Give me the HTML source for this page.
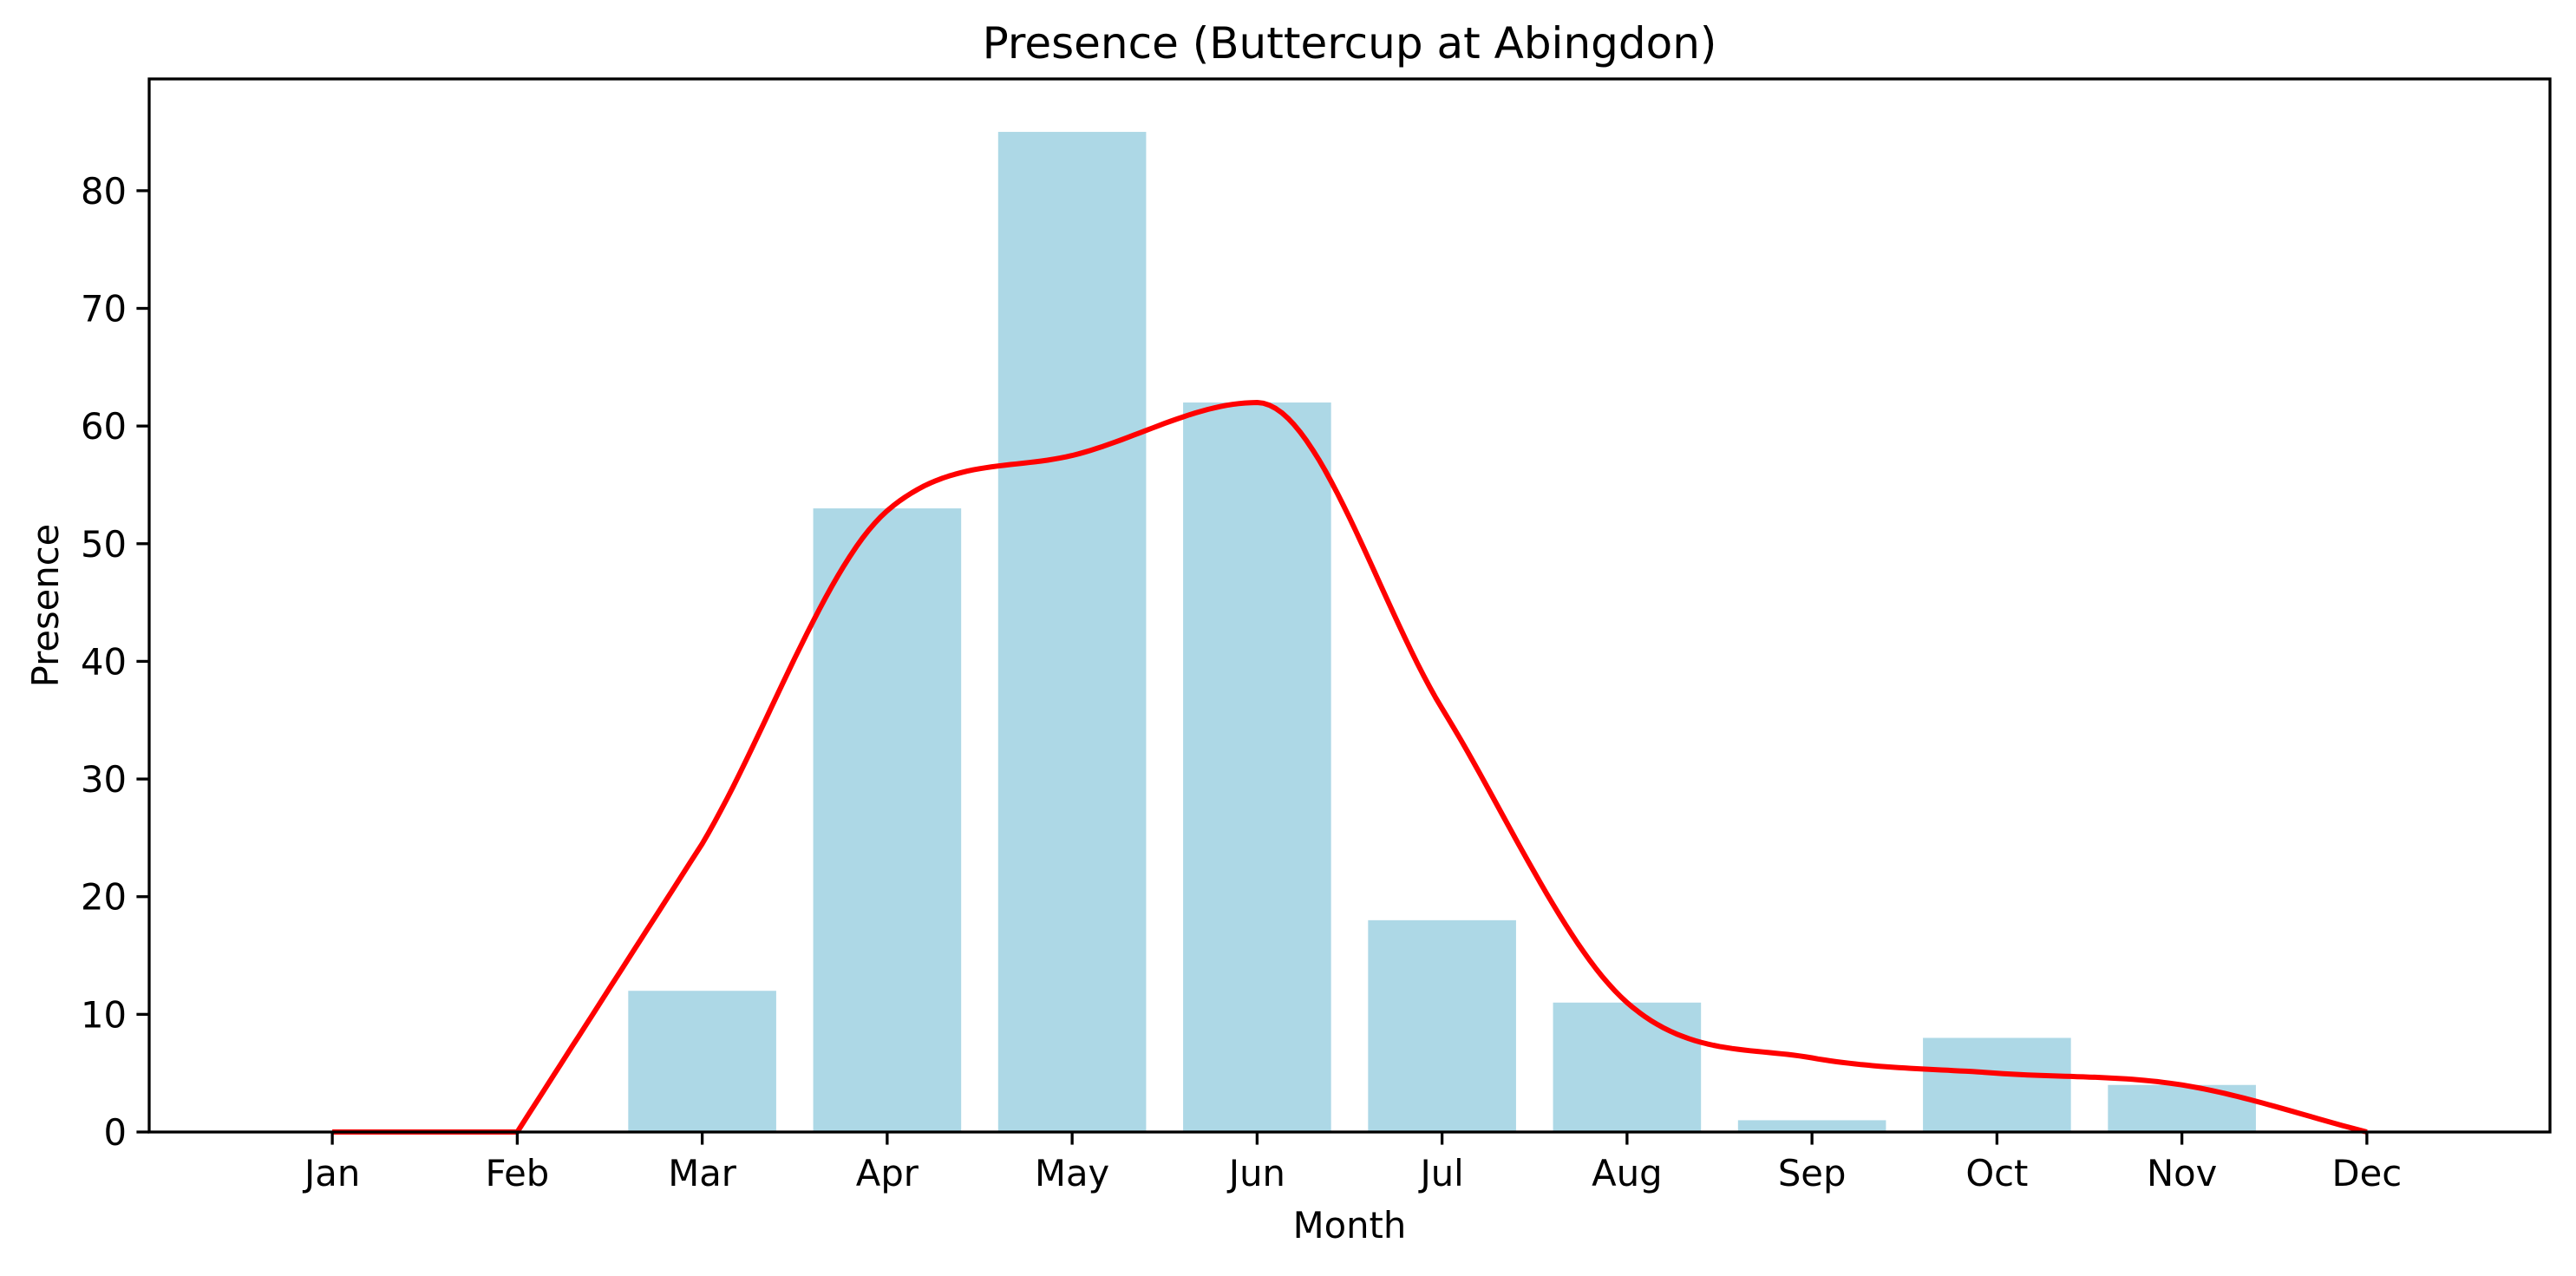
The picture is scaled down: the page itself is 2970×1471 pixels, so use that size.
<!DOCTYPE html>
<html><head><meta charset="utf-8"><style>
html,body{margin:0;padding:0;background:#fff;}
svg text{font-family:"DejaVu Sans","Liberation Sans",sans-serif;fill:#000;}
</style></head><body>
<svg id="chart" width="2970" height="1466" viewBox="0 0 2970 1466" xmlns="http://www.w3.org/2000/svg">
<rect width="2970" height="1466" fill="#fff"/>
<g id="bars"></g>
<g id="line"></g>
<g id="axes"></g>
<text x="1556" y="67" font-size="50" text-anchor="middle">Presence (Buttercup at Abingdon)</text>
<text x="1556" y="1427" font-size="41.7" text-anchor="middle">Month</text>
<text transform="translate(67,698) rotate(-90)" font-size="41.7" text-anchor="middle">Presence</text>
</svg>
<script>
const months = ["Jan","Feb","Mar","Apr","May","Jun","Jul","Aug","Sep","Oct","Nov","Dec"];
const barValues = [0,0,12,53,85,62,18,11,1,8,4,0];
const curveValues = [0,0,24.5,52.8,57.5,62,36,11,6.3,5,4,0];
const yTicks = [0,10,20,30,40,50,60,70,80];

const L=172,R=2940,T=91,B=1305;
const xMin=-0.99,xMax=11.99,yMax=89.5;
const NS="http://www.w3.org/2000/svg";
function X(i){return L+(i-xMin)/(xMax-xMin)*(R-L);}
function Y(v){return B-v/yMax*(B-T);}
function mk(tag,attrs,parent){const e=document.createElementNS(NS,tag);for(const k in attrs)e.setAttribute(k,attrs[k]);parent.appendChild(e);return e;}

const gb=document.getElementById('bars');
barValues.forEach((v,i)=>{
  const r=mk('rect',{x:X(i-0.4),y:Y(v),width:X(i+0.4)-X(i-0.4),height:B-Y(v),fill:'#add8e6'},gb);
  
  
});

const n=curveValues.length;
const d=[];for(let i=0;i<n-1;i++)d.push(curveValues[i+1]-curveValues[i]);
const m=[];for(let i=0;i<n;i++){
  if(i===0)m.push(d[0]);else if(i===n-1)m.push(d[n-2]);
  else m.push(d[i-1]*d[i]<=0?0:(d[i-1]+d[i])/2);
}
for(let i=0;i<n-1;i++){if(d[i]===0){m[i]=0;m[i+1]=0;}else{const a=m[i]/d[i],b=m[i+1]/d[i],s=a*a+b*b;if(s>9){const t=3/Math.sqrt(s);m[i]=t*a*d[i];m[i+1]=t*b*d[i];}}}
const ms=m.slice(), me=m.slice();
// the rise after a flat run is near-linear in the reference
for(let i=1;i<n-1;i++){ if(d[i-1]===0 && d[i]!==0){ ms[i]=d[i]; me[i+1]=d[i]; } }
let p='';
for(let i=0;i<n-1;i++){
  for(let k=0;k<=30;k++){const t=k/30,h00=2*t*t*t-3*t*t+1,h10=t*t*t-2*t*t+t,h01=-2*t*t*t+3*t*t,h11=t*t*t-t*t;
    const v=h00*curveValues[i]+h10*ms[i]+h01*curveValues[i+1]+h11*me[i+1];
    p+=(p?'L':'M')+X(i+t).toFixed(1)+','+Y(v).toFixed(1);}
}
const ln=mk('path',{d:p,fill:'none',stroke:'#ff0000','stroke-width':6,'stroke-linejoin':'round'},document.getElementById('line'));



const ga=document.getElementById('axes');
const fr=mk('rect',{x:L,y:T,width:R-L,height:B-T,fill:'none',stroke:'#000','stroke-width':3.3},ga);


yTicks.forEach(v=>{
  mk('line',{x1:L,x2:L-14.6,y1:Y(v),y2:Y(v),stroke:'#000','stroke-width':3.3},ga);
  const t=mk('text',{x:L-26,y:Y(v)+15,'font-size':41.7,'text-anchor':'end'},ga);
  t.textContent=v;
  
  
});
months.forEach((mname,i)=>{
  mk('line',{x1:X(i),x2:X(i),y1:B,y2:B+14.6,stroke:'#000','stroke-width':3.3},ga);
  const t=mk('text',{x:X(i),y:B+62,'font-size':41.7,'text-anchor':'middle'},ga);
  t.textContent=mname;
  
  
});
</script>
</body></html>
